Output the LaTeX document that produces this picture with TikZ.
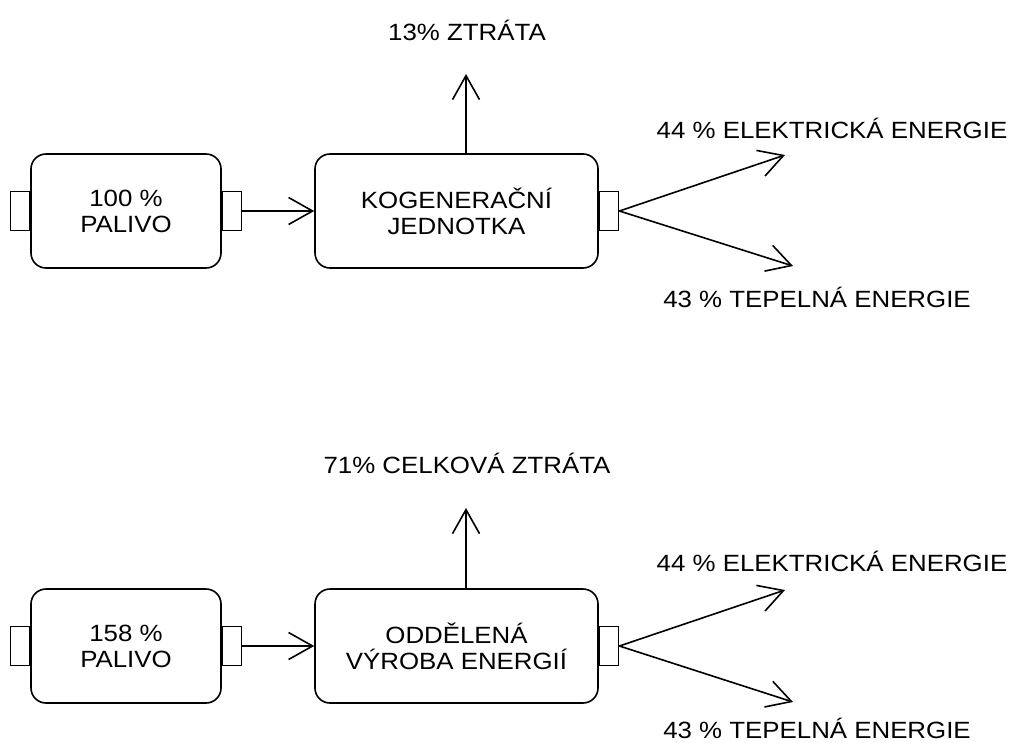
\documentclass[tikz,border=0pt]{standalone}
\usepackage{fontspec}
\setmainfont{Liberation Sans}[FakeStretch=1.1]
\usetikzlibrary{arrows.meta,positioning,calc}
\tikzstyle{a}=[anchor=center]
\tikzstyle{box}=[a,draw,rectangle,rounded corners=15pt,line width=1.6pt,align=center,fill=white]
\tikzstyle{port}=[draw,rectangle,line width=1.6pt,minimum width=19pt,minimum height=39pt,inner sep=0pt,fill=white]
\tikzstyle{txt}=[a,align=center,inner sep=0pt]
\tikzstyle{arrow}=[draw,line width=1.6pt,-{Straight Barb[length=24pt,width=27pt,line width=1.6pt]}]

\begin{document}
\begin{tikzpicture}[x=1pt,y=-1pt,font=\fontsize{23.5}{26}\selectfont]
  \useasboundingbox (0,0) rectangle (1017,742);

  % Cogeneration
  \node [box,minimum width=190pt,minimum height=114pt] (f1) at (126,211) {100 \%\\PALIVO};
  \node [box,minimum width=283pt,minimum height=114pt] (u1) at (456.5,211) {KOGENERAČNÍ\\JEDNOTKA};
  \node [port,anchor=east] (f1l) at (f1.west) {};
  \node [port,anchor=west] (f1r) at (f1.east) {};
  \node [port,anchor=west] (u1r) at (u1.east) {};

  \node [txt] (z1) at (467,30) {13\% ZTRÁTA};
  \node [txt] (e1) at (832,128) {44 \% ELEKTRICKÁ ENERGIE};
  \node [txt] (t1) at (817,297) {43 \% TEPELNÁ ENERGIE};
  \coordinate (z1tip) at (466,74);
  \coordinate (e1tip) at (785,155);
  \coordinate (t1tip) at (793,266);

  \draw[arrow] (f1r) -- (u1);
  \draw[arrow] (z1tip |- u1.north) -- (z1tip);
  \draw[arrow] (u1r.east) -- (e1tip);
  \draw[arrow] (u1r.east) -- (t1tip);

  % Separate production
  \node [box,minimum width=190pt,minimum height=114pt] (f2) at (126,646) {158 \%\\PALIVO};
  \node [box,minimum width=283pt,minimum height=114pt] (u2) at (456.5,646) {ODDĚLENÁ\\VÝROBA ENERGIÍ};
  \node [port,anchor=east] (f2l) at (f2.west) {};
  \node [port,anchor=west] (f2r) at (f2.east) {};
  \node [port,anchor=west] (u2r) at (u2.east) {};

  \node [txt] (z2) at (467,463) {71\% CELKOVÁ ZTRÁTA};
  \node [txt] (e2) at (832,561) {44 \% ELEKTRICKÁ ENERGIE};
  \node [txt] (t2) at (817,728) {43 \% TEPELNÁ ENERGIE};
  \coordinate (z2tip) at (466,508);
  \coordinate (e2tip) at (785,590);
  \coordinate (t2tip) at (793,702);

  \draw[arrow] (f2r) -- (u2);
  \draw[arrow] (z2tip |- u2.north) -- (z2tip);
  \draw[arrow] (u2r.east) -- (e2tip);
  \draw[arrow] (u2r.east) -- (t2tip);
\end{tikzpicture}
\end{document}
